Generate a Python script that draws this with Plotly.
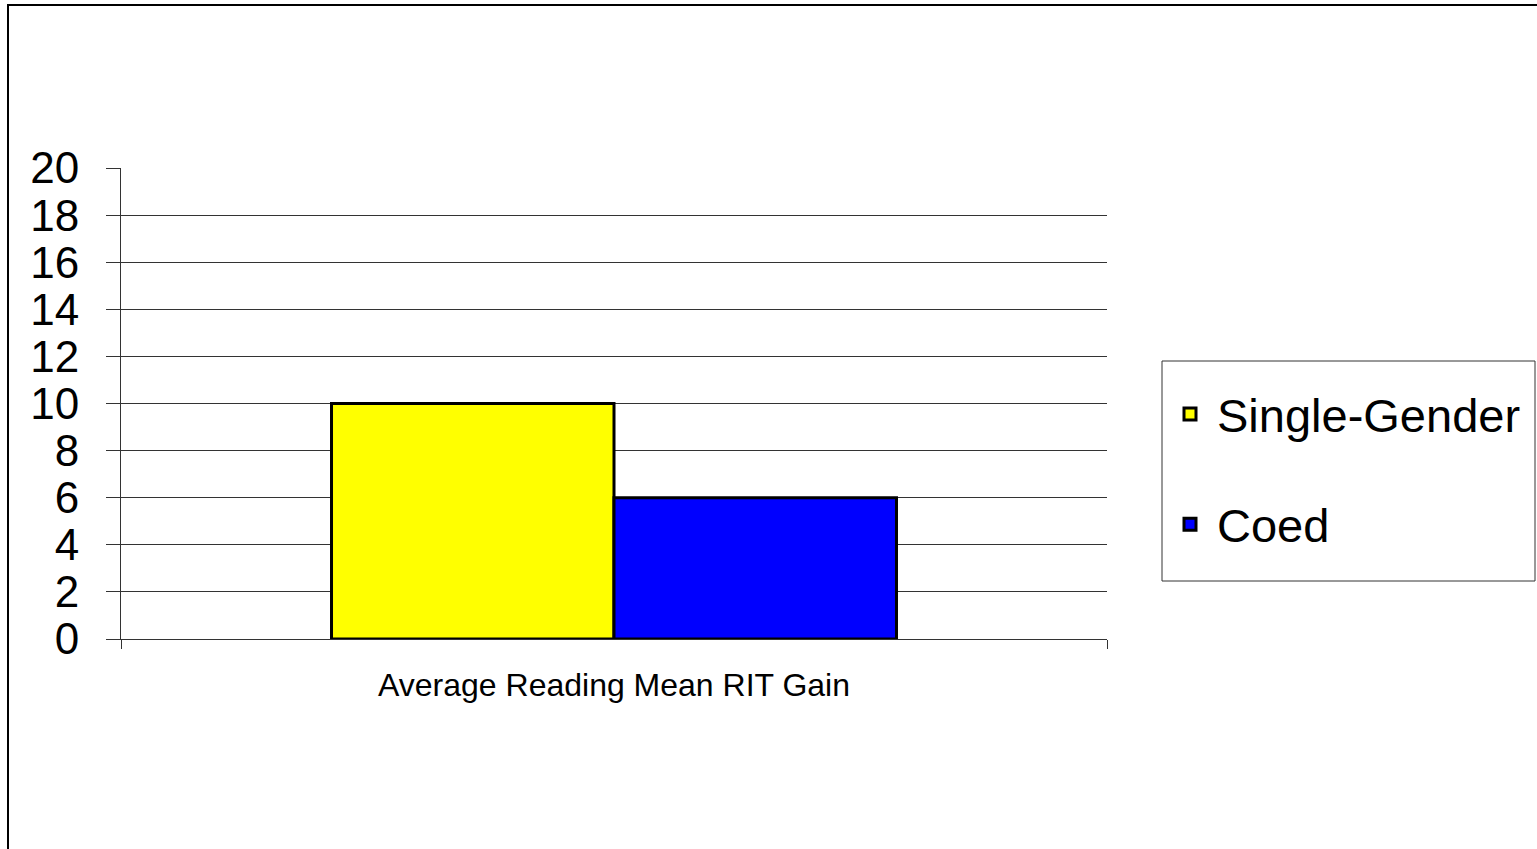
import plotly.graph_objects as go

categories = ["Average Reading Mean RIT Gain"]
series_names = ["Single-Gender", "Coed"]
single_gender = [10]
coed = [6]
series_values = [single_gender, coed]
series_colors = ["#FFFF00", "#0000FF"]
y_ticks = [0, 2, 4, 6, 8, 10, 12, 14, 16, 18, 20]
grid_ticks = [2, 4, 6, 8, 10, 12, 14, 16, 18]

W, H = 1537, 849
L, R, T, B = 121, 430, 168, 210
pw, ph = W - L - R, H - T - B


def px_x(x):
    return (x - L) / pw


def px_y(y):
    return 1 - (y - T) / ph


fig = go.Figure()
for name, vals, col in zip(series_names, series_values, series_colors):
    fig.add_trace(go.Bar(
        x=categories, y=vals, name=name, legendgroup=name,
        marker=dict(color=col, line=dict(color="black", width=3)),
    ))

# invisible trace to drive the gridline axis
fig.add_trace(go.Scatter(x=categories, y=[None], yaxis="y2", showlegend=False,
                         hoverinfo="skip"))

font = "Liberation Sans, Arial, sans-serif"
fig.update_layout(
    width=W, height=H,
    margin=dict(l=L, r=R, t=T, b=B, autoexpand=False),
    paper_bgcolor="white", plot_bgcolor="white",
    barmode="group", bargap=0.427, bargroupgap=0,
    font=dict(family=font, color="black"),
    xaxis=dict(
        type="category", range=[-0.5, 0.5],
        showline=True, linecolor="#333333", linewidth=1,
        ticks="outside", tickson="boundaries", ticklen=9, tickcolor="#333333",
        tickwidth=1, tickfont=dict(size=32, family=font, color="black"),
        ticklabelstandoff=18,
        showgrid=False, zeroline=False,
    ),
    yaxis=dict(
        range=[0, 20], tickvals=y_ticks, ticktext=[str(v) for v in y_ticks],
        showline=True, linecolor="#333333", linewidth=1,
        ticks="outside", ticklen=14, tickcolor="#333333", tickwidth=1,
        tickfont=dict(size=44, family=font, color="black"),
        ticklabelstandoff=18,
        showgrid=False, zeroline=False,
    ),
    yaxis2=dict(
        overlaying="y", range=[0, 20], tickvals=grid_ticks, showticklabels=False,
        showgrid=True, gridcolor="#333333", gridwidth=1, zeroline=False,
        showline=False, ticks="", layer="below traces",
    ),
    legend=dict(
        x=px_x(1163), y=px_y(377), xanchor="left", yanchor="top",
        borderwidth=0, bgcolor="rgba(0,0,0,0)",
        font=dict(size=47, family=font, color="black"),
        tracegroupgap=46, traceorder="grouped", itemwidth=44,
    ),
    showlegend=True,
    shapes=[
        dict(type="rect", xref="paper", yref="paper", layer="below",
             x0=px_x(8), x1=px_x(W + 20), y0=px_y(H + 20), y1=px_y(5),
             line=dict(color="black", width=2), fillcolor="rgba(0,0,0,0)"),
        dict(type="rect", xref="paper", yref="paper", layer="below",
             x0=px_x(1162), x1=px_x(1535), y0=px_y(581), y1=px_y(361),
             line=dict(color="#333333", width=1), fillcolor="white"),
    ],
)

fig.write_html("out.html", config={"displayModeBar": False},
               post_script="document.body.style.margin='0';")
